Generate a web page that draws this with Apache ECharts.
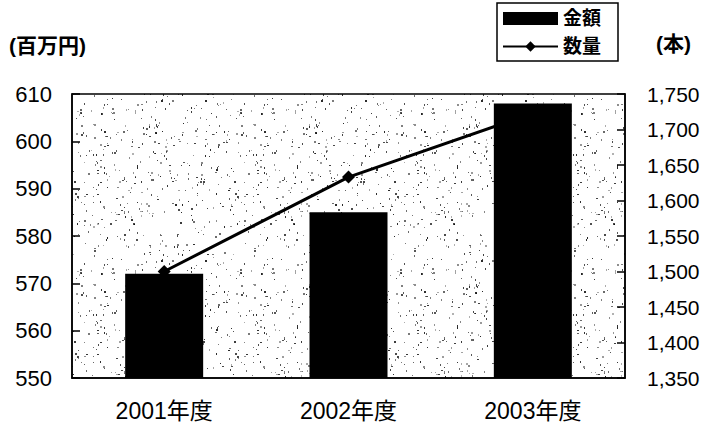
<!DOCTYPE html>
<html><head><meta charset="utf-8">
<script src="https://cdn.jsdelivr.net/npm/echarts@6/dist/echarts.min.js"></script>
<style>html,body{margin:0;padding:0;background:#fff}#c{width:707px;height:430px}</style>
</head><body><div id="c"></div>
<script>
const categories = ['2001年度', '2002年度', '2003年度'];
const amountValues = [572, 585, 608];        // 金額 (百万円)
const quantityValues = [1500, 1633, 1723];   // 数量 (本)
const leftAxisRange = [550, 610, 10];
const rightAxisRange = [1350, 1750, 50];

// stipple texture for the plot background (style only)
function makeTexture() {
  const cv = document.createElement('canvas');
  cv.width = 160; cv.height = 160;
  const g = cv.getContext('2d');
  g.fillStyle = '#fff'; g.fillRect(0, 0, 160, 160);
  let s = 12345;
  const rnd = () => { s = (s * 1103515245 + 12345) % 2147483648; return s / 2147483648; };
  g.fillStyle = '#000';
  for (let i = 0; i < 420; i++) {
    const x = Math.floor(rnd() * 160), y = Math.floor(rnd() * 160);
    g.globalAlpha = 0.3 + rnd() * 0.55;
    g.fillRect(x, y, rnd() < 0.3 ? 2 : 1, rnd() < 0.5 ? 2 : 1);
  }
  return cv.toDataURL();
}

const FONT = '"Liberation Sans", "Noto Sans CJK JP", sans-serif';
const chart = echarts.init(document.getElementById('c'), null, { renderer: 'svg' });
chart.setOption({
  backgroundColor: '#fff',
  animation: false,
  grid: {
    left: 72, right: 82, top: 94, bottom: 52,
    show: true, borderColor: '#000', borderWidth: 1.5,
    backgroundColor: { image: makeTexture(), repeat: 'repeat' }
  },
  legend: {
    orient: 'vertical', left: 497, top: 3,
    padding: [6, 17, 5, 5], itemGap: 9,
    itemWidth: 55, itemHeight: 13,
    backgroundColor: '#fff', borderColor: '#000', borderWidth: 1.5, borderRadius: 0,
    textStyle: { fontFamily: FONT, fontSize: 19, fontWeight: 'bold', color: '#000' },
    data: [{ name: '金額', icon: 'rect' }, { name: '数量' }]
  },
  graphic: [
    { type: 'text', left: 9, top: 35, style: { text: '(百万円)', fontFamily: FONT, fontSize: 21, fill: '#000', fontWeight: 'bold' } },
    { type: 'text', left: 656, top: 33, style: { text: '(本)', fontFamily: FONT, fontSize: 21, fill: '#000', fontWeight: 'bold' } }
  ],
  xAxis: {
    type: 'category', data: categories, boundaryGap: true,
    axisLine: { lineStyle: { color: '#000', width: 1.5 } },
    axisTick: { inside: true, length: 10, lineStyle: { color: '#000', width: 1.5 } },
    axisLabel: { margin: 21, fontFamily: FONT, fontSize: 23, color: '#000' }
  },
  yAxis: [
    {
      type: 'value', min: leftAxisRange[0], max: leftAxisRange[1], interval: leftAxisRange[2],
      axisLine: { show: true, lineStyle: { color: '#000', width: 1.5 } },
      axisTick: { show: true, inside: true, length: 8, lineStyle: { color: '#000', width: 1.5 } },
      splitLine: { show: false },
      axisLabel: { margin: 20, fontFamily: FONT, fontSize: 22, color: '#000' }
    },
    {
      type: 'value', min: rightAxisRange[0], max: rightAxisRange[1], interval: rightAxisRange[2],
      position: 'right',
      axisLine: { show: true, lineStyle: { color: '#000', width: 1.5 } },
      axisTick: { show: true, inside: true, length: 8, lineStyle: { color: '#000', width: 1.5 } },
      splitLine: { show: false },
      axisLabel: { margin: 22, fontFamily: FONT, fontSize: 21, color: '#000',
        formatter: v => v.toLocaleString('en-US') }
    }
  ],
  series: [
    {
      name: '金額', type: 'bar', yAxisIndex: 0, data: amountValues,
      barWidth: 78, z: 3,
      itemStyle: { color: '#000' }
    },
    {
      name: '数量', type: 'line', yAxisIndex: 1, data: quantityValues,
      z: 2, symbol: 'diamond', symbolSize: 13,
      lineStyle: { color: '#000', width: 3 },
      itemStyle: { color: '#000' }
    }
  ]
});
</script></body></html>
